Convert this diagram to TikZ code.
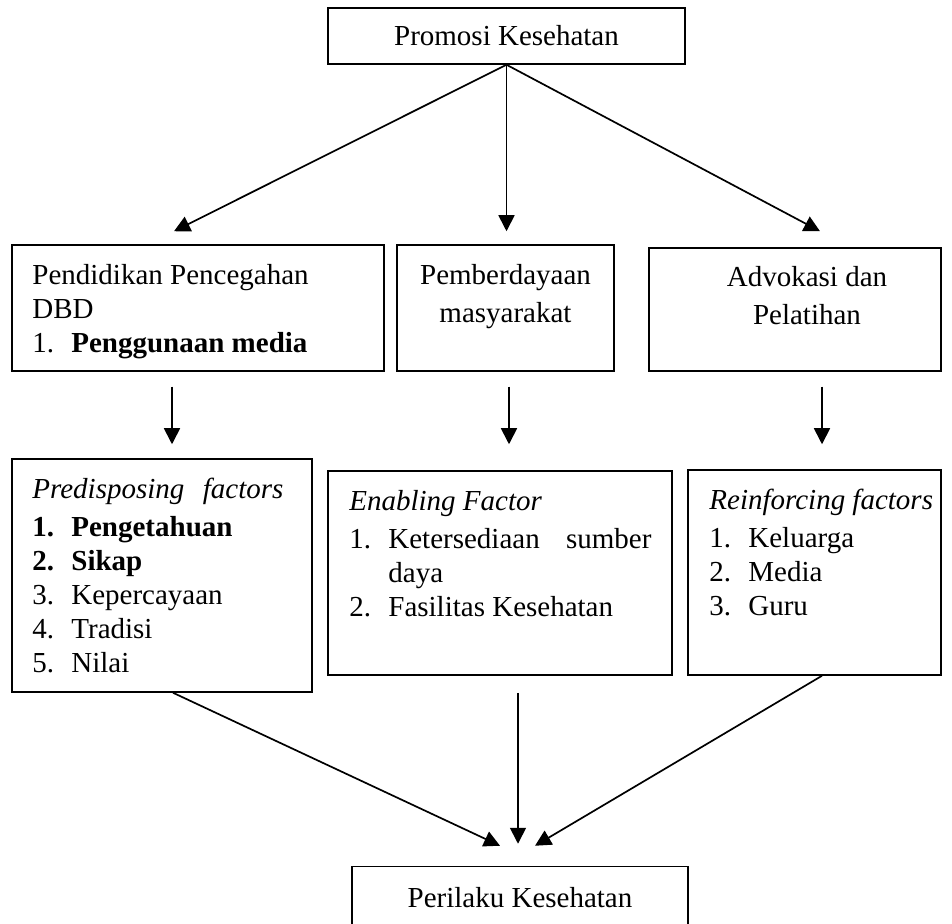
\documentclass[tikz,border=0pt]{standalone}
\usepackage{fontspec}
\setmainfont{Liberation Serif}
\usepackage{tikz}
\usetikzlibrary{arrows.meta}

\newcommand{\butir}[1]{\makebox[19.5pt][l]{#1}}

\tikzset{
  kotak/.style={draw, line width=0.75pt, inner sep=0pt},
  isi/.style={anchor=north west, inner sep=0pt, align=left},
  isitengah/.style={anchor=north, inner sep=0pt, align=center},
  panah/.style={-{Triangle[length=8pt,width=8pt]}, line width=0.85pt}
}

\begin{document}
\begin{tikzpicture}[x=0.5pt, y=-0.5pt, font=\fontsize{14.5pt}{17pt}\selectfont]
            \useasboundingbox (0,0) rectangle (952,924);
            % Top and bottom boxes
            \node[kotak, minimum width=178.5pt, minimum height=28pt] (promosi) at (506.5,36) {Promosi Kesehatan};
            \node[kotak, minimum width=168pt, minimum height=31.5pt] (perilaku) at (520,898) {Perilaku Kesehatan};
            % Second row
            \node[kotak, minimum width=186pt, minimum height=63pt] (pendidikan) at (198,308) {};
            \node[kotak, minimum width=108.5pt, minimum height=63pt] (pemberdayaan) at (505.5,308) {};
            \node[kotak, minimum width=146pt, minimum height=61.5pt] (advokasi) at (795,309.5) {};
            \node[isi] (pendidikan-txt) at (32,264) {Pendidikan Pencegahan\\ DBD\\ \butir{1.}\textbf{Penggunaan media}};
            \node[isitengah] (pemberdayaan-txt) at (505.5,264) {Pemberdayaan\\[2pt] masyarakat};
            \node[isitengah] (advokasi-txt) at (807,266) {Advokasi dan\\[2pt] Pelatihan};
            % Third row (factors)
            \node[kotak, minimum width=150pt, minimum height=116.5pt] (predisp) at (162,575.5) {};
            \node[kotak, minimum width=172pt, minimum height=102pt] (enabling) at (500,573) {};
            \node[kotak, minimum width=126.5pt, minimum height=102.5pt] (reinforc) at (814.5,572.5) {};
            \node[isi] (predisp-txt) at (32,478) {\makebox[125.5pt][l]{\itshape Predisposing\hfill factors}\\[2pt]
              \textbf{\butir{1.}Pengetahuan}\\ \textbf{\butir{2.}Sikap}\\ \butir{3.}Kepercayaan\\ \butir{4.}Tradisi\\ \butir{5.}Nilai};
            \node[isi] (enabling-txt) at (349,490) {\textit{Enabling Factor}\\[2pt]
              \butir{1.}\makebox[131.5pt][l]{Ketersediaan\hfill sumber}\\ \butir{}daya\\ \butir{2.}Fasilitas Kesehatan};
            \node[isi] (reinforc-txt) at (709,489) {\textit{Reinforcing factors}\\[2pt]
              \butir{1.}Keluarga\\ \butir{2.}Media\\ \butir{3.}Guru};
            % Arrows from the top
            \draw[panah] (promosi.south) -- ([xshift=-12pt, yshift=6.5pt]pendidikan.north);
            \draw[panah] (promosi.south) -- ([yshift=6.5pt]promosi.south |- pemberdayaan.north);
            \draw[panah] (promosi.south) -- ([xshift=12.5pt, yshift=8pt]advokasi.north);
            % Arrows between the rows
            \draw[panah] ([xshift=-13pt, yshift=-7.5pt]pendidikan.south) -- ([xshift=5pt, yshift=7pt]predisp.north);
            \draw[panah] ([xshift=1.75pt, yshift=-7.5pt]pemberdayaan.south) -- ([xshift=4.5pt, yshift=13pt]enabling.north);
            \draw[panah] ([xshift=13.5pt, yshift=-7.5pt]advokasi.south) -- ([xshift=3.75pt, yshift=12.5pt]reinforc.north);
            % Arrows to the bottom
            \draw[panah] ([xshift=5.5pt]predisp.south) -- ([xshift=-10pt, yshift=10pt]perilaku.north);
            \draw[panah] ([xshift=9pt, yshift=-8.5pt]enabling.south) -- ([xshift=-1pt, yshift=11pt]perilaku.north);
            \draw[panah] ([xshift=3.75pt]reinforc.south) -- ([xshift=7.5pt, yshift=10pt]perilaku.north);
          \end{tikzpicture}
\end{document}
